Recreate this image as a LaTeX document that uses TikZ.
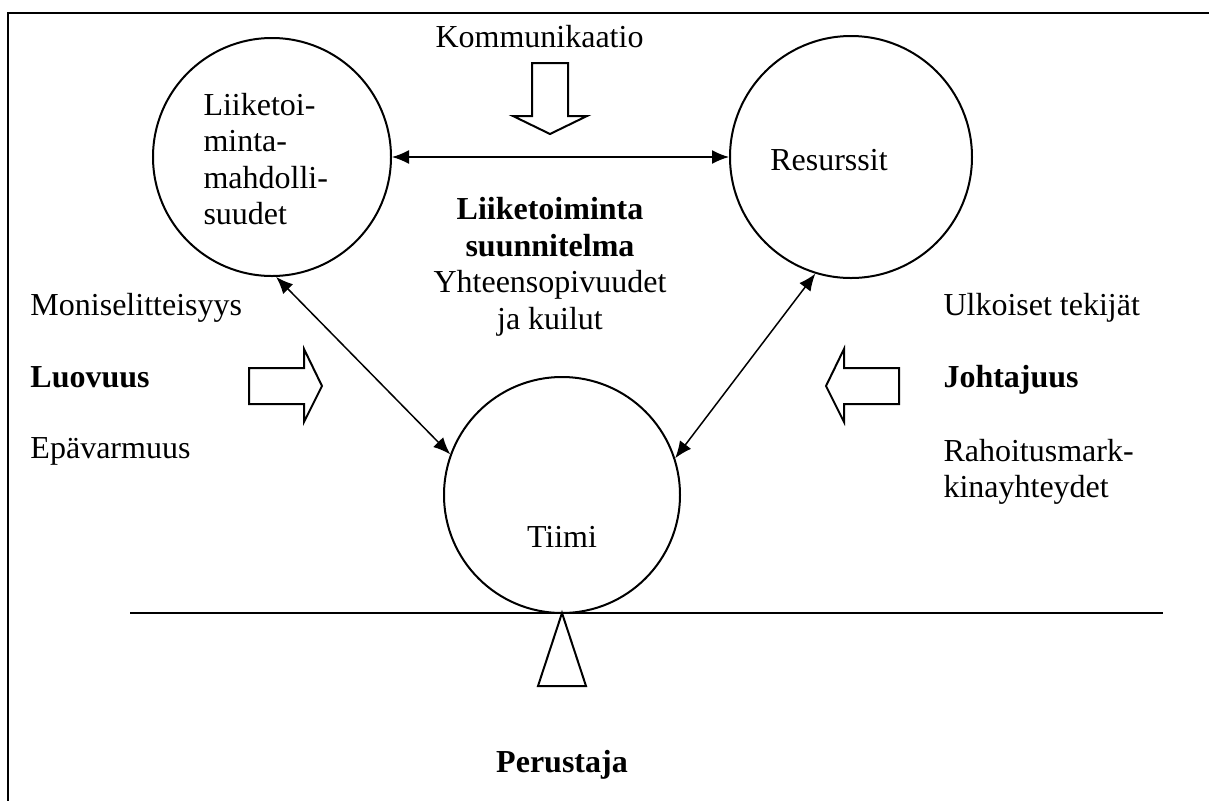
\documentclass[tikz,border=0pt]{standalone}
\usepackage{fontspec}
\setmainfont{Liberation Serif}
\usetikzlibrary{arrows.meta}

\tikzset{
  px/.style={x=0.4pt,y=-0.4pt},
  txt/.style={inner sep=0pt,font=\fontsize{12.8pt}{14.6pt}\selectfont},
  boldtxt/.style={inner sep=0pt,font=\fontsize{12.8pt}{14.6pt}\selectfont\bfseries},
  ring/.style={circle,draw,line width=0.8pt,inner sep=0pt},
  link/.style={line width=0.6pt,{Latex[length=6.8pt,width=5.6pt]}-{Latex[length=6.8pt,width=5.6pt]}},
  blockarrow/.style={draw,line width=0.8pt,line join=miter},
  frame/.style={line width=1pt}
}

\begin{document}
\begin{tikzpicture}[px]
  \useasboundingbox (0,0) rectangle (1209,801);

  % open frame: top and left edges only
  \coordinate (fl) at (8,801);
  \coordinate (ftl) at (8,13);
  \coordinate (ftr) at (1209,13);
  \draw[frame] (fl) -- (ftl) -- (ftr);

  % the three circles
  \node[ring,minimum size=95.2pt] (lc) at (272,157) {};
  \node[ring,minimum size=96.8pt] (rc) at (851,157) {};
  \node[ring,minimum size=94.4pt] (tm) at (562,495) {};

  % circle labels
  \node[txt,align=left,anchor=west] (lct) at (203,159)
    {Liiketoi-\\minta-\\mahdolli-\\suudet};
  \node[txt,anchor=base] (rct) at (829,170) {Resurssit};
  \node[txt,anchor=base] (tmt) at (562,547) {Tiimi};

  % connectors between circles
  \draw[link] (lc.east) -- (rc.west);
  \draw[link] (lc.-88) -- (tm.160);
  \draw[link] (rc.-107) -- (tm.18);

  % centre text
  \node[txt,align=center] (plan) at (550,267)
    {\bfseries Liiketoiminta\\\bfseries suunnitelma\\Yhteensopivuudet\\ja kuilut};

  % top: communication arrow
  \node[txt,anchor=base west] (komm) at (435,47) {Kommunikaatio};
  \draw[blockarrow] (532,63) -- (568,63) -- (568,116) -- (587,116) -- (550,134)
    -- (513,116) -- (532,116) -- cycle;

  % left side
  \node[txt,anchor=base west] (moni) at (30,315) {Moniselitteisyys};
  \node[boldtxt,anchor=base west] (luov) at (30,387) {Luovuus};
  \node[txt,anchor=base west] (epav) at (30,458) {Epävarmuus};
  \draw[blockarrow] (249,368) -- (304,368) -- (304,349) -- (322,386) -- (304,422)
    -- (304,404) -- (249,404) -- cycle;

  % right side
  \node[txt,anchor=base west] (ulko) at (943,315) {Ulkoiset tekijät};
  \node[boldtxt,anchor=base west] (joht) at (943,387) {Johtajuus};
  \node[txt,align=left,anchor=west] (raho) at (943,472) {Rahoitusmark-\\kinayhteydet};
  \draw[blockarrow] (899,368) -- (844,368) -- (844,349) -- (826,386) -- (844,422)
    -- (844,404) -- (899,404) -- cycle;

  % balance beam and fulcrum
  \coordinate (bl) at (130,613);
  \coordinate (br) at (1163,613);
  \draw[line width=0.6pt] (bl) -- (br);
  \coordinate (ful) at (562,613);
  \draw[line width=0.8pt,line join=miter] (ful) -- (586,686) -- (538,686) -- cycle;

  \node[boldtxt,anchor=base] (peru) at (562,772) {Perustaja};
\end{tikzpicture}
\end{document}
